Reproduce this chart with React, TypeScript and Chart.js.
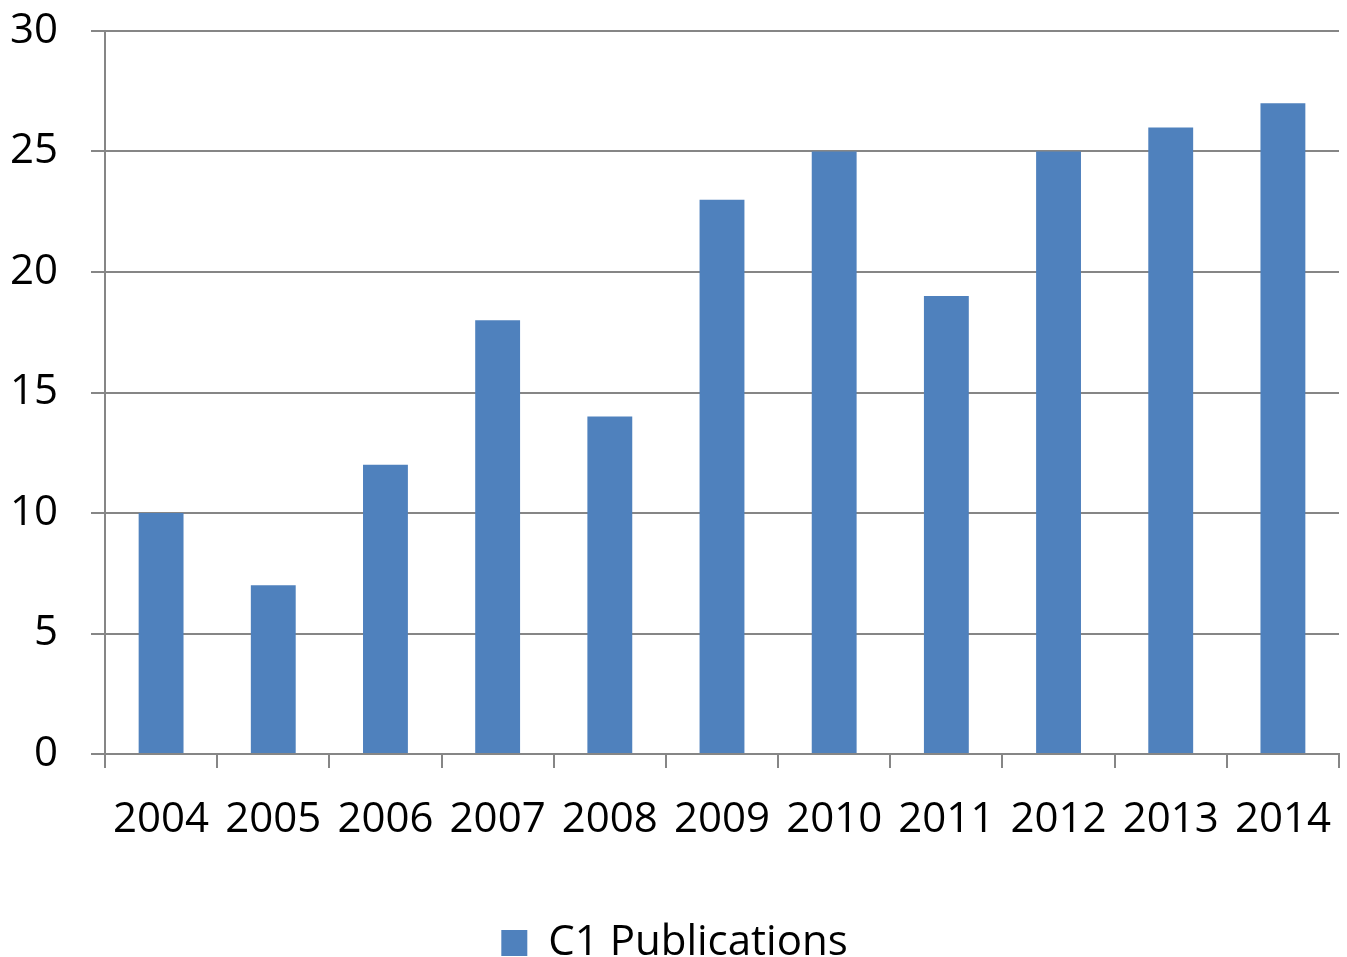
import React, { useEffect, useRef } from "react";
import { Chart, registerables } from "chart.js";

Chart.register(...registerables);

const categories = ["2004", "2005", "2006", "2007", "2008", "2009", "2010", "2011", "2012", "2013", "2014"];
const publications = [10, 7, 12, 18, 14, 23, 25, 19, 25, 26, 27];
const seriesLabel = "C1 Publications";
const yTicks = [0, 5, 10, 15, 20, 25, 30];

export default function App() {
  const ref = useRef<HTMLCanvasElement | null>(null);
  useEffect(() => {
    document.body.style.margin = "0";
    const font = { family: "'Open Sans', 'Liberation Sans', sans-serif", size: 42 };
    const chart = new Chart(ref.current!, {
      type: "bar",
      data: {
        labels: categories,
        datasets: [
          {
            label: seriesLabel,
            data: publications,
            backgroundColor: "#4F81BD",
            borderWidth: 0,
            categoryPercentage: 1,
            barPercentage: 0.4,
          },
        ],
      },
      options: {
        animation: false,
        responsive: false,
        layout: { padding: { top: 31, right: 8, left: 10, bottom: -17 } },
        plugins: {
          legend: {
            position: "bottom",
            labels: {
              font,
              color: "#000",
              boxWidth: 26,
              boxHeight: 26,
              padding: 10,
            },
          },
          tooltip: { enabled: false },
        },
        scales: {
          x: {
            afterFit: (axis: any) => {
              axis.height = 158;
              axis.paddingLeft = 0;
              axis.paddingRight = 0;
            },
            grid: {
              drawOnChartArea: false,
              drawTicks: true,
              tickLength: 14,
              color: "#868686",
              lineWidth: 2,
              offset: true,
            },
            border: { color: "#868686", width: 2 },
            ticks: { font, color: "#000", padding: 27, maxRotation: 0, autoSkip: false },
          },
          y: {
            min: 0,
            max: 30,
            afterBuildTicks: (axis: any) => {
              axis.ticks = yTicks.map((v) => ({ value: v }));
            },
            afterFit: (axis: any) => {
              axis.width = 95;
              axis.paddingTop = 0;
              axis.paddingBottom = 0;
            },
            grid: {
              color: "#868686",
              lineWidth: 2,
              tickLength: 14,
            },
            border: { color: "#868686", width: 2 },
            ticks: { font, color: "#000", padding: 33 },
          },
        },
      },
    });
    return () => chart.destroy();
  }, []);
  return <canvas ref={ref} width={1347} height={957} style={{ display: "block" }} />;
}
